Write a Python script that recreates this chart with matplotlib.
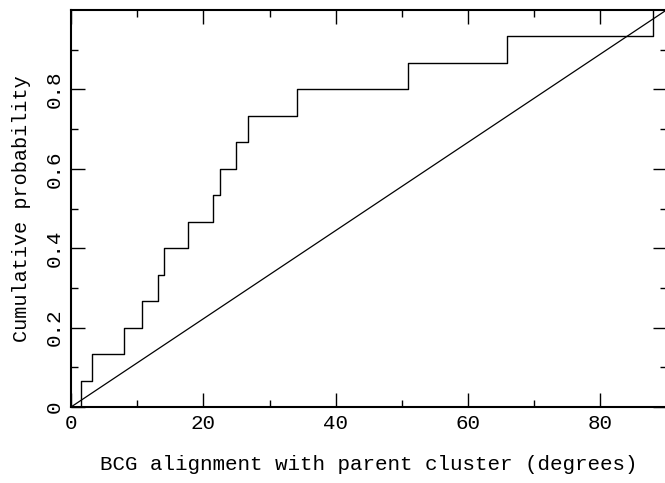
import matplotlib
matplotlib.use("Agg")
import matplotlib.pyplot as plt
import numpy as np

# Sorted BCG alignment angles (degrees) read from step positions
angles = [1.5, 3.1, 8.0, 10.8, 13.1, 14.1, 17.7, 21.4, 22.5, 24.9, 26.7, 34.2, 50.9, 65.9, 88.0]
x_ticks = [0, 20, 40, 60, 80]
y_ticks = [0, 0.2, 0.4, 0.6, 0.8]
y_ticklabels = ["0", "0.2", "0.4", "0.6", "0.8"]

plt.rcParams['font.family'] = ['Liberation Mono', 'DejaVu Sans Mono']

fig = plt.figure(figsize=(6.65, 4.83), dpi=100)
ax = fig.add_axes([71/665, 1-407/483, (666.5-71)/665, (407-10)/483])

n = len(angles)
xs = [0] + angles
ys = [0] + [(i+1)/n for i in range(n)]
ax.step(xs, ys, where='post', color='black', lw=1.0)
ax.plot([0, 90], [0, 1], color='black', lw=0.9)

ax.set_xlim(0, 90)
ax.set_ylim(0, 1.0)
ax.set_xticks(x_ticks)
ax.set_xticks(np.arange(0, 91, 10), minor=True)
ax.set_yticks(y_ticks)
ax.set_yticklabels(y_ticklabels, rotation=90, va='center')
ax.set_yticks(np.arange(0, 1.0, 0.1), minor=True)
ax.tick_params(which='both', direction='in', top=True, right=True, labelsize=15, width=1.0)
ax.tick_params(which='major', length=10, pad=5)
ax.tick_params(which='minor', length=5)
for s in ax.spines.values():
    s.set_linewidth(1.5)

ax.set_xlabel("BCG alignment with parent cluster (degrees)", fontsize=15, labelpad=16)
ax.set_ylabel("Cumulative probability", fontsize=14.5, labelpad=10)

fig.savefig("out.png", dpi=100)
